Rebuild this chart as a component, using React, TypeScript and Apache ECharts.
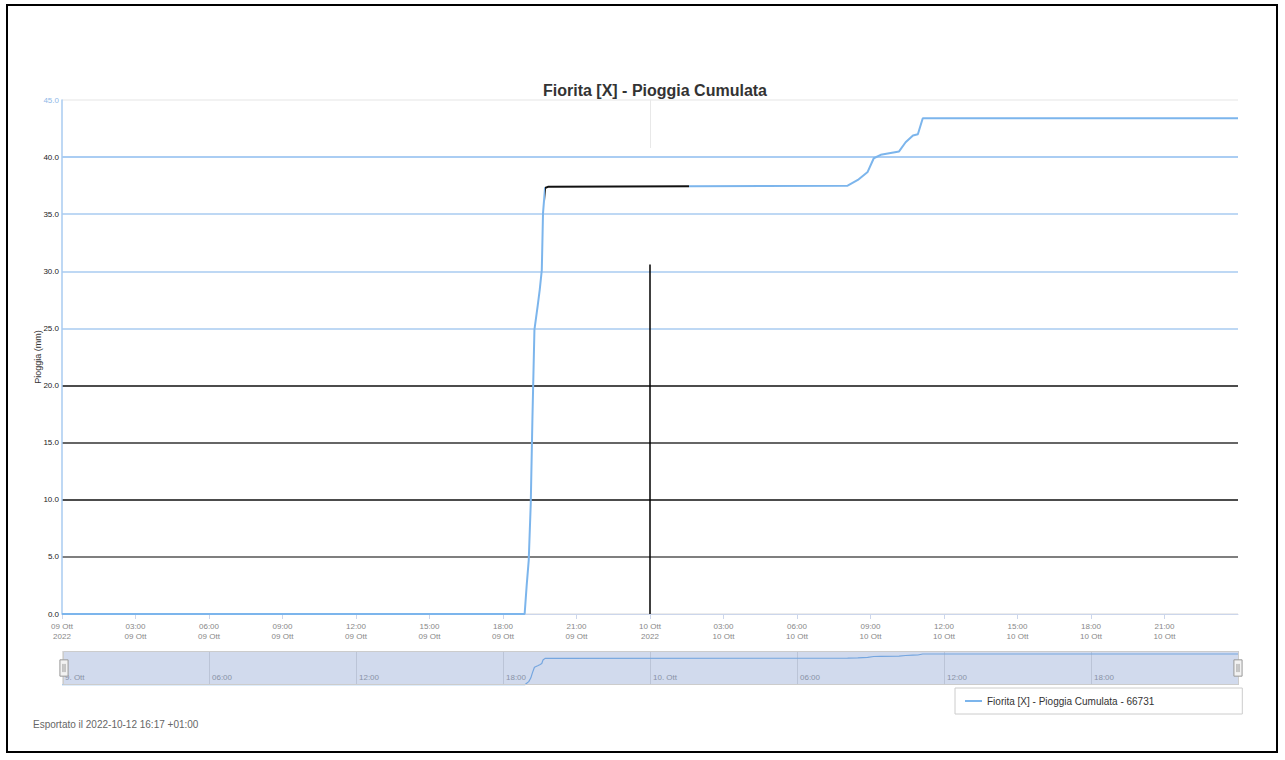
import React, { useEffect, useRef } from "react";
import * as echarts from "echarts";

const chartTitle = "Fiorita [X] - Pioggia Cumulata";
const seriesName = "Fiorita [X] - Pioggia Cumulata - 66731";
const yAxisName = "Pioggia (mm)";
const footerText = "Esportato il 2022-10-12 16:17 +01:00";
const monthLabel = "Ott";
const yearLabel = "2022";

const times = [
  "2022-10-09 00:00",
  "2022-10-09 18:53",
  "2022-10-09 18:58",
  "2022-10-09 19:03",
  "2022-10-09 19:08",
  "2022-10-09 19:12",
  "2022-10-09 19:17",
  "2022-10-09 19:25",
  "2022-10-09 19:30",
  "2022-10-09 19:35",
  "2022-10-09 19:38",
  "2022-10-09 19:43",
  "2022-10-09 19:50",
  "2022-10-10 08:04",
  "2022-10-10 08:29",
  "2022-10-10 08:53",
  "2022-10-10 09:08",
  "2022-10-10 09:25",
  "2022-10-10 10:10",
  "2022-10-10 10:26",
  "2022-10-10 10:44",
  "2022-10-10 10:56",
  "2022-10-10 11:08",
  "2022-10-11 00:00",
];
const rain = [
  0.0, 0.0, 2.5, 4.7, 9.7, 17.0, 24.9, 27.0, 28.4, 30.1, 35.1, 37.3, 37.4,
  37.5, 38.0, 38.7, 39.9, 40.2, 40.5, 41.3, 41.9, 42.0, 43.4, 43.4,
];

const yTicks = [0, 5, 10, 15, 20, 25, 30, 35, 40, 45];
const gridColors = [
  "#e6e6e6", "#555555", "#111111", "#333333", "#111111",
  "#a8cbf0", "#a8cbf0", "#a8cbf0", "#8ebcef", "#eeeeee",
];

const toHours = (s: string) => {
  const [d, t] = s.split(" ");
  const day = Number(d.split("-")[2]);
  const [hh, mm] = t.split(":").map(Number);
  return (day - 9) * 24 + hh + mm / 60;
};

const pad = (n: number) => (n < 10 ? "0" + n : "" + n);

export default function App() {
  const ref = useRef<HTMLDivElement>(null);
  useEffect(() => {
    document.body.style.margin = "0";
    if (!ref.current) return;
    const chart = echarts.init(ref.current, undefined, { renderer: "svg" });
    const data = times.map((t, i) => [toHours(t), rain[i]]);
    const font = "Liberation Sans, Arial, sans-serif";
    chart.setOption({
      animation: false,
      backgroundColor: "#ffffff",
      textStyle: { fontFamily: font },
      title: {
        text: chartTitle,
        left: 538,
        top: 77,
        textStyle: { fontSize: 16, fontWeight: "bold", color: "#333", fontFamily: font },
      },
      legend: {
        left: 955,
        top: 688,
        data: [seriesName],
        borderColor: "#cccccc",
        borderWidth: 1,
        padding: [8, 88, 8, 10],
        icon: "rect",
        itemWidth: 17,
        itemHeight: 2,
        itemGap: 5,
        textStyle: { fontSize: 10, color: "#333", fontFamily: font },
      },
      visualMap: {
        show: false,
        type: "piecewise",
        seriesIndex: 0,
        dimension: 0,
        pieces: [
          { lt: 19.7, color: "#7cb5ec" },
          { gte: 19.7, lt: 25.6, color: "#111111" },
          { gte: 25.6, color: "#7cb5ec" },
        ],
      },
      grid: [
        { left: 62, right: 47, top: 100, bottom: 146 },
        { left: 62, right: 47, top: 651, height: 34 },
      ],
      xAxis: [
        {
          type: "value",
          gridIndex: 0,
          min: 0,
          max: 48,
          interval: 3,
          axisLine: { show: true, lineStyle: { color: "#ccd6eb" } },
          axisTick: { show: true, length: 5, lineStyle: { color: "#ccd6eb" } },
          splitLine: { show: false },
          axisLabel: {
            showMaxLabel: false,
            color: "#888",
            fontSize: 8,
            lineHeight: 10,
            margin: 7,
            formatter: (v: number) => {
              const h = Math.round(v) % 24;
              const d = 9 + Math.floor(Math.round(v) / 24);
              if (h === 0) return `${pad(d)} ${monthLabel}\n${yearLabel}`;
              return `${pad(h)}:00\n${pad(d)} ${monthLabel}`;
            },
          },
        },
        {
          type: "value",
          gridIndex: 1,
          min: 0,
          max: 48,
          interval: 6,
          axisLine: { show: false },
          axisTick: { show: false },
          splitLine: { show: true, lineStyle: { color: "#e0e0e0" } },
          axisLabel: {
            inside: true,
            align: "left",
            margin: 4,
            showMaxLabel: false,
            color: "#999",
            fontSize: 8,
            padding: [0, 0, 0, 3],
            formatter: (v: number) => {
              const h = Math.round(v) % 24;
              const d = 9 + Math.floor(Math.round(v) / 24);
              if (h === 0) return `${d}. ${monthLabel}`;
              return `${pad(h)}:00`;
            },
          },
        },
      ],
      yAxis: [
        {
          type: "value",
          gridIndex: 0,
          min: yTicks[0],
          max: yTicks[yTicks.length - 1],
          interval: yTicks[1] - yTicks[0],
          name: yAxisName,
          nameLocation: "middle",
          nameGap: 20,
          nameMoveOverlap: false,
          nameTextStyle: { fontSize: 9, color: "#333", fontFamily: font },
          axisLine: { show: true, lineStyle: { color: "#a8cbf0", width: 1.5 } },
          axisTick: { show: false },
          axisLabel: {
            fontSize: 8,
            margin: 3,
            color: (v: number) => (Number(v) === 45 ? "#8fb8e8" : "#222"),
            formatter: (v: number) => v.toFixed(1),
          },
          splitLine: { show: true, lineStyle: { color: gridColors, width: 1.5 } },
        },
        {
          type: "value",
          gridIndex: 1,
          min: 0,
          max: 47.6,
          show: false,
          splitLine: { show: false },
        },
      ],
      dataZoom: [
        {
          type: "slider",
          xAxisIndex: 0,
          filterMode: "none",
          left: 62,
          right: 47,
          top: 651,
          height: 34,
          start: 0,
          end: 100,
          showDataShadow: false,
          showDetail: false,
          brushSelect: false,
          moveHandleSize: 0,
          backgroundColor: "rgba(0,0,0,0)",
          fillerColor: "rgba(102,133,194,0.3)",
          borderColor: "#cccccc",
          handleIcon: "path://M0,0 h8 v16 h-8 Z M3,4 v8 M5,4 v8",
          handleSize: "48%",
          handleStyle: { color: "#f2f2f2", borderColor: "#999999", borderWidth: 1 },
        },
      ],
      series: [
        {
          name: seriesName,
          type: "line",
          xAxisIndex: 0,
          yAxisIndex: 0,
          data,
          showSymbol: false,
          symbol: "none",
          color: "#7cb5ec",
          lineStyle: { width: 2 },
          markLine: {
            silent: true,
            symbol: "none",
            label: { show: false },
            data: [
              [
                { coord: [24, 0], lineStyle: { color: "#000", width: 1.5, type: "solid" } },
                { coord: [24, 30.6] },
              ],
              [
                { coord: [24, 40.8], lineStyle: { color: "#e8e8e8", width: 1, type: "solid" } },
                { coord: [24, 45] },
              ],
            ],
          },
        },
        {
          name: "navigator",
          type: "line",
          xAxisIndex: 1,
          yAxisIndex: 1,
          data,
          showSymbol: false,
          symbol: "none",
          color: "#7cb5ec",
          lineStyle: { width: 1.2 },
        },
      ],
      graphic: [
        {
          type: "rect",
          shape: { x: 7, y: 5, width: 1270, height: 747 },
          style: { fill: "none", stroke: "#000", lineWidth: 2 },
          silent: true,
        },
        {
          type: "text",
          left: 33,
          top: 719,
          style: { text: footerText, fontSize: 10, fill: "#666", fontFamily: font },
        },
      ],
    });
    return () => chart.dispose();
  }, []);
  return <div ref={ref} style={{ width: 1285, height: 760 }} />;
}
